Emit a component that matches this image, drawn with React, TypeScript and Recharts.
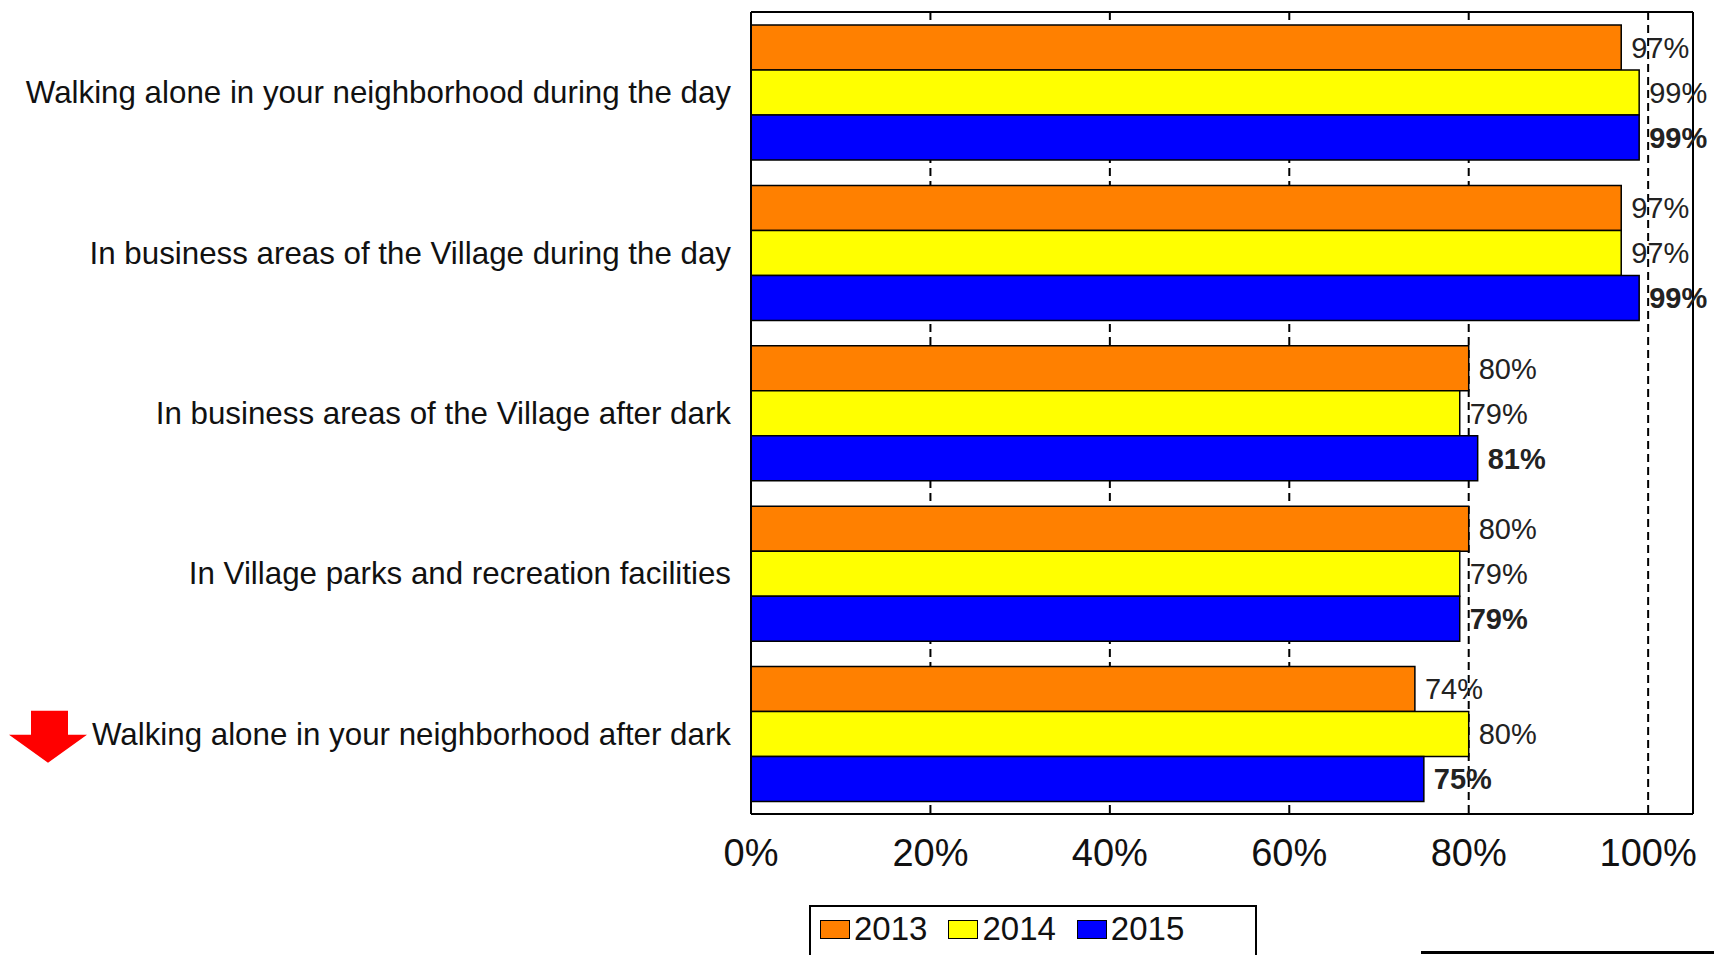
import { Bar, BarChart, CartesianGrid, LabelList, XAxis, YAxis } from "recharts";

const CATEGORIES = [
  "Walking alone in your neighborhood during the day",
  "In business areas of the Village during the day",
  "In business areas of the Village after dark",
  "In Village parks and recreation facilities",
  "Walking alone in your neighborhood after dark",
];
const Y2013 = [97, 97, 80, 80, 74];
const Y2014 = [99, 97, 79, 79, 80];
const Y2015 = [99, 99, 81, 79, 75];
const X_TICKS = [0, 20, 40, 60, 80, 100];
// rows marked with the red "went down" arrow
const FLAGGED = ["Walking alone in your neighborhood after dark"];

const SERIES = [
  { key: "y2013", name: "2013", color: "#ff8000", bold: false },
  { key: "y2014", name: "2014", color: "#ffff00", bold: false },
  { key: "y2015", name: "2015", color: "#0000ff", bold: true },
];

const data = CATEGORIES.map((label, i) => ({
  label,
  y2013: Y2013[i],
  y2014: Y2014[i],
  y2015: Y2015[i],
}));

const FONT = '"Liberation Sans", Arial, sans-serif';
const BORDER = { stroke: "#000", strokeWidth: 2 };

function CategoryTick({ x, y, payload }: any) {
  const flagged = FLAGGED.includes(payload.value);
  return (
    <g transform={`translate(${x},${y})`}>
      {flagged && (
        <path d="M-700,-23 H-663 V1 H-644 L-683,29 L-722,1 H-700 Z" fill="#ff0000" />
      )}
      <text textAnchor="end" dy={11} fontSize={31.3} fill="#111">
        {payload.value}
      </text>
    </g>
  );
}

function PercentTick({ x, y, payload }: any) {
  return (
    <text x={x} y={y + 52} textAnchor="middle" fontSize={38} fill="#111">
      {payload.value}%
    </text>
  );
}

export default function App() {
  return (
    <div
      style={{
        position: "absolute",
        left: 0,
        top: 0,
        width: 1714,
        height: 955,
        overflow: "hidden",
        background: "#fff",
        fontFamily: FONT,
      }}
    >
      <BarChart
        width={1714}
        height={955}
        layout="vertical"
        data={data}
        margin={{ top: 11, right: 20, bottom: 0, left: 0 }}
        barGap={0}
        barSize={45}
      >
        <CartesianGrid
          xAxisId={0}
          yAxisId={0}
          horizontal={false}
          stroke="#000"
          strokeWidth={2}
          strokeDasharray="8 5"
        />
        <XAxis
          type="number"
          domain={[0, 105]}
          ticks={X_TICKS}
          interval={0}
          height={141}
          tickSize={0}
          tickMargin={0}
          tickLine={false}
          axisLine={BORDER}
          tick={<PercentTick />}
        />
        <XAxis
          xAxisId="top"
          orientation="top"
          type="number"
          domain={[0, 105]}
          ticks={[]}
          height={1}
          tick={false}
          tickLine={false}
          axisLine={BORDER}
        />
        <YAxis
          type="category"
          dataKey="label"
          width={751}
          interval={0}
          tickSize={0}
          tickMargin={20}
          tickLine={false}
          axisLine={BORDER}
          tick={<CategoryTick />}
        />
        <YAxis
          yAxisId="right"
          orientation="right"
          type="category"
          dataKey="label"
          width={1}
          tick={false}
          tickLine={false}
          axisLine={BORDER}
        />
        {SERIES.map((s) => (
          <Bar
            key={s.key}
            dataKey={s.key}
            name={s.name}
            fill={s.color}
            stroke="#000"
            strokeWidth={1.5}
            isAnimationActive={false}
          >
            <LabelList
              dataKey={s.key}
              position="right"
              offset={10}
              formatter={(v: any) => `${v}%`}
              fill="#222"
              fontSize={29}
              fontWeight={s.bold ? 700 : 400}
            />
          </Bar>
        ))}
      </BarChart>

      {/* legend, cut off by the bottom edge as in the source */}
      <div
        style={{
          position: "absolute",
          left: 809,
          top: 905,
          width: 448,
          height: 80,
          border: "2px solid #000",
          boxSizing: "border-box",
          display: "flex",
          alignItems: "flex-start",
          padding: "10px 0 0 9px",
        }}
      >
        {SERIES.map((s) => (
          <div
            key={s.key}
            style={{ display: "flex", alignItems: "center", height: 24, marginRight: 21 }}
          >
            <span
              style={{
                width: 30,
                height: 19,
                background: s.color,
                border: "1.5px solid #000",
                boxSizing: "border-box",
                marginRight: 4,
              }}
            />
            <span style={{ fontSize: 33, lineHeight: "24px", color: "#111" }}>{s.name}</span>
          </div>
        ))}
      </div>
      <div
        style={{
          position: "absolute",
          left: 1421,
          top: 951,
          width: 293,
          borderTop: "3px solid #000",
        }}
      />
    </div>
  );
}
